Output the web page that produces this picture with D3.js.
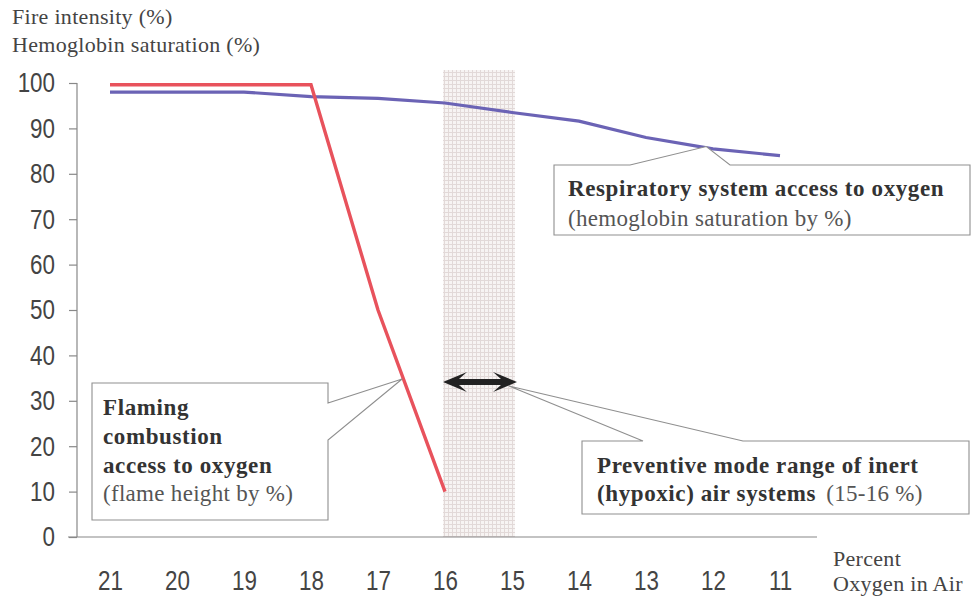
<!DOCTYPE html>
<html><head><meta charset="utf-8">
<script src="https://cdn.jsdelivr.net/npm/d3@7"></script>
<style>
html,body{margin:0;padding:0;background:#fff;}
svg{display:block;}
</style>
</head><body>
<svg id="c" width="974" height="597"></svg>
<script>
// ---- data ----
const oxygen = [21, 20, 19, 18, 17, 16, 15, 14, 13, 12, 11];
const hemoglobin = [98, 98, 98, 97, 96.6, 95.6, 93.5, 91.6, 88, 85.5, 84];
const flameOxygen = [21, 20, 19, 18, 17, 16];
const flame = [99.6, 99.6, 99.6, 99.6, 50, 10];
const yTicks = [0, 10, 20, 30, 40, 50, 60, 70, 80, 90, 100];
const preventiveRange = [16, 15];

const svg = d3.select("#c");
const serif = "'Liberation Serif','Times New Roman',serif";
const sans = "'Liberation Sans',Arial,sans-serif";
const squeeze = 0.8;

const x = d3.scaleLinear().domain([21, 11]).range([110, 780]);
const y = d3.scaleLinear().domain([0, 100]).range([537, 83]);

// pattern for band
const defs = svg.append("defs");
const pat = defs.append("pattern").attr("id", "grid").attr("patternUnits", "userSpaceOnUse")
  .attr("width", 4).attr("height", 4);
pat.append("rect").attr("width", 4).attr("height", 4).attr("fill", "#f7f4f3");
pat.append("path").attr("d", "M0,0.5H4M0.5,0V4").attr("stroke", "#e2d9d8").attr("stroke-width", 1);

// band
svg.append("rect")
  .attr("x", x(preventiveRange[0]) - 2)
  .attr("y", 70)
  .attr("width", x(preventiveRange[1]) - x(preventiveRange[0]) + 5)
  .attr("height", 537 - 70)
  .attr("fill", "url(#grid)");

// axes
const yAxis = d3.axisLeft(y).tickValues(yTicks).tickSize(8).tickPadding(14);
const gy = svg.append("g").attr("transform", "translate(77,0)").call(yAxis);
gy.select(".domain").attr("stroke", "#888").attr("stroke-width", 1.2).attr("d", "M0,83V537");
gy.selectAll(".tick line").attr("stroke", "#888").attr("stroke-width", 1.2);
gy.selectAll(".tick text").attr("font-family", sans).attr("font-size", 28).attr("fill", "#444")
  .attr("x", -22 / squeeze).attr("transform", `scale(${squeeze},1)`);

svg.append("line").attr("x1", 68).attr("x2", 817).attr("y1", 537).attr("y2", 537)
  .attr("stroke", "#888").attr("stroke-width", 1.2);

const xAxis = d3.axisBottom(x).tickValues(oxygen).tickSize(0).tickPadding(0).tickFormat(d3.format("d"));
const gx = svg.append("g").attr("transform", "translate(0,590)").call(xAxis);
gx.select(".domain").remove();
gx.selectAll(".tick text").attr("font-family", sans).attr("font-size", 28).attr("fill", "#444")
  .attr("dy", 0).attr("y", 0).attr("transform", `scale(${squeeze},1)`);

// axis titles
const yt = svg.append("text").attr("font-family", serif).attr("font-size", 22)
  .attr("letter-spacing", 0.3).attr("fill", "#444");
yt.append("tspan").attr("x", 12).attr("y", 24).text("Fire intensity (%)");
yt.append("tspan").attr("x", 12).attr("y", 52).text("Hemoglobin saturation (%)");

const xt = svg.append("text").attr("font-family", serif).attr("font-size", 22)
  .attr("letter-spacing", 0.3).attr("fill", "#444");
xt.append("tspan").attr("x", 833).attr("y", 566).text("Percent");
xt.append("tspan").attr("x", 833).attr("y", 591).text("Oxygen in Air");

// lines
const line = d3.line().x(d => x(d[0])).y(d => y(d[1]));
svg.append("path").datum(oxygen.map((o, i) => [o, hemoglobin[i]]))
  .attr("d", line).attr("fill", "none").attr("stroke", "#6b63b5").attr("stroke-width", 3.2);
svg.append("path").datum(flameOxygen.map((o, i) => [o, flame[i]]))
  .attr("d", line).attr("fill", "none").attr("stroke", "#e8525c").attr("stroke-width", 3.4)
  .attr("stroke-linejoin", "miter");

// double arrow
const ay = 382, ax1 = x(preventiveRange[0]) - 2, ax2 = x(preventiveRange[1]) + 5;
svg.append("path")
  .attr("d", `M${ax1},${ay} L${ax1+24},${ay-10} L${ax1+16},${ay-3} L${ax2-16},${ay-3} L${ax2-24},${ay-10} L${ax2},${ay} L${ax2-24},${ay+10} L${ax2-16},${ay+3} L${ax1+16},${ay+3} L${ax1+24},${ay+10} Z`)
  .attr("fill", "#222");

// callouts
const co = svg.append("g").attr("fill", "#fff").attr("stroke", "#8f8f8f").attr("stroke-width", 1.1);
const tipR = [x(12.1), y(86.0)];
co.append("path").attr("d", `M554,165 H630 L${tipR[0]},${tipR[1]} L730,165 H970 V235 H554 Z`);
const tipF = [x(16.64), y(34.8)];
co.append("path").attr("d", `M92,383 H328 V403 L${tipF[0]},${tipF[1]} L328,440 V520 H92 Z`);
const tipP = [ax2 - 8, ay + 4];
co.append("path").attr("d", `M582,441 H643 L${tipP[0]},${tipP[1]} L743,441 H969 V514 H582 Z`);

function txt(xp, yp, s, bold, fill) {
  return svg.append("text").attr("x", xp).attr("y", yp).attr("font-family", serif)
    .attr("font-size", 23).attr("letter-spacing", bold ? 0.6 : 0.3)
    .attr("font-weight", bold ? "bold" : "normal").attr("fill", fill).text(s);
}
txt(568, 196, "Respiratory system access to oxygen", true, "#333");
txt(568, 226, "(hemoglobin saturation by %)", false, "#555");

txt(103, 415, "Flaming", true, "#333");
txt(103, 444, "combustion", true, "#333");
txt(103, 473, "access to oxygen", true, "#333");
txt(103, 501, "(flame height by %)", false, "#555");

txt(597, 473, "Preventive mode range of inert", true, "#333");
const t2 = svg.append("text").attr("x", 597).attr("y", 501).attr("font-family", serif).attr("font-size", 23);
t2.append("tspan").attr("font-weight", "bold").attr("letter-spacing", 0.6).attr("fill", "#333").text("(hypoxic) air systems");
t2.append("tspan").attr("fill", "#555").attr("letter-spacing", 0.3).attr("dx", 10).text("(15-16 %)");
</script>
</body></html>
